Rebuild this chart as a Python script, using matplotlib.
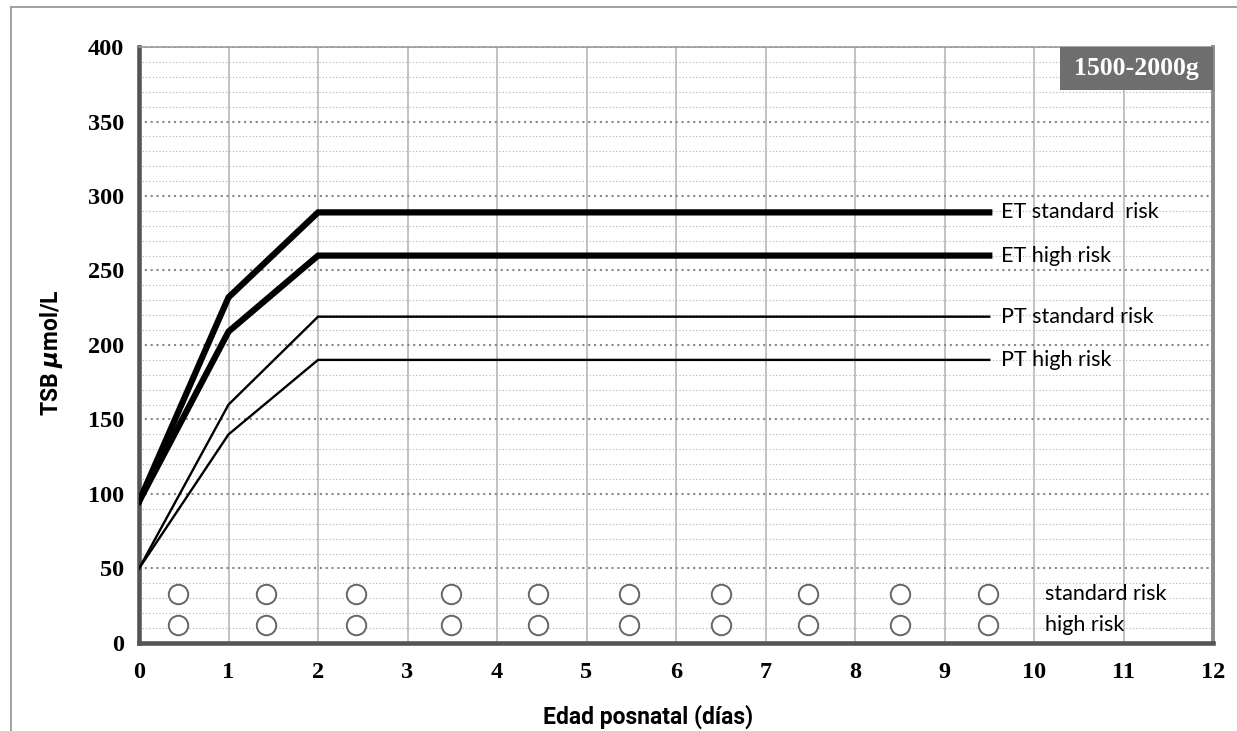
import matplotlib
matplotlib.use("Agg")
import matplotlib.pyplot as plt
from matplotlib.lines import Line2D
from matplotlib.patches import Rectangle
from matplotlib.ticker import MultipleLocator

# threshold curves (TSB umol/L by postnatal day)
days = [0, 1, 2, 9.5]
et_standard = [95, 232, 289, 289]
et_high = [95, 209, 260, 260]
pt_standard = [50, 160, 219, 219]
pt_high = [50, 140, 190, 190]

curve_labels = ["ET standard  risk", "ET high risk", "PT standard risk", "PT high risk"]

# daily check circles
circle_days = [0.44, 1.42, 2.42, 3.49, 4.46, 5.48, 6.5, 7.47, 8.5, 9.49]
circle_standard = [33] * 10
circle_high = [12] * 10

weight_band = "1500-2000g"

serif = ["Liberation Serif", "DejaVu Serif"]
narrow = ["Lato", "DejaVu Sans"]
bold_sans = ["Roboto", "DejaVu Sans"]

plt.rcParams["font.family"] = serif
plt.rcParams["font.weight"] = "bold"

fig = plt.figure(figsize=(12.37, 7.31), dpi=100)
ax = fig.add_axes([0.1124, 0.1204, 0.8682, 0.8153])

ax.set_xlim(0, 12)
ax.set_ylim(0, 400)
ax.xaxis.set_major_locator(MultipleLocator(1))
ax.yaxis.set_major_locator(MultipleLocator(50))
ax.yaxis.set_minor_locator(MultipleLocator(10))

ax.set_axisbelow(True)
ax.xaxis.grid(True, which="major", color="#b8b8b8", lw=1.2, ls="-")
ax.yaxis.grid(True, which="minor", color="#b0b0b0", lw=0.8, ls=(0, (1, 2)))
ax.yaxis.grid(True, which="major", color="#888888", lw=1.5, ls=(0, (1, 1.8)))

ax.tick_params(which="both", length=0, labelsize=17.5)
ax.tick_params(axis="y", pad=11)
ax.tick_params(axis="x", pad=14)

for side in ["left", "bottom"]:
    ax.spines[side].set_color("#555555")
    ax.spines[side].set_linewidth(3.3)
ax.spines["right"].set_color("#8a8a8a")
ax.spines["right"].set_linewidth(2.8)
ax.spines["top"].set_color("#999999")
ax.spines["top"].set_linewidth(1.2)

curves = [et_standard, et_high, pt_standard, pt_high]
widths = [4.5, 4.5, 1.7, 1.7]
for vals, lw, lab in zip(curves, widths, curve_labels):
    ax.plot(days, vals, color="black", lw=lw, solid_joinstyle="miter", zorder=3)
    ax.text(9.63, vals[-1], lab, fontsize=15.5, family=narrow, fontweight="normal",
            va="center", ha="left", zorder=4)

ax.plot(circle_days, circle_standard, "o", ms=14, mfc="white", mec="#666666", mew=1.4, zorder=3)
ax.plot(circle_days, circle_high, "o", ms=14, mfc="white", mec="#666666", mew=1.4, zorder=3)
ax.text(10.12, circle_standard[0], "standard risk", fontsize=15.5, family=narrow,
        fontweight="normal", va="center", ha="left")
ax.text(10.12, circle_high[0], "high risk", fontsize=15.5, family=narrow,
        fontweight="normal", va="center", ha="left")

ax.add_patch(Rectangle((0.858, 0.928), 0.142, 0.072, transform=ax.transAxes,
                       facecolor="#6e6e6e", edgecolor="none", zorder=5, clip_on=False))
ax.text(0.9285, 0.964, weight_band, transform=ax.transAxes, color="white",
        fontsize=18.5, family=serif, fontweight="bold", ha="center", va="center", zorder=6)

ax.set_xlabel("Edad posnatal (días)", fontsize=16.5, family=bold_sans, fontweight="bold")
ax.xaxis.set_label_coords(0.474, -0.103)
ax.set_ylabel("TSB $\\mu$mol/L", fontsize=16.5, family=bold_sans, fontweight="bold")
ax.yaxis.set_label_coords(-0.069, 0.487)

# outer frame of the original figure box
fig.add_artist(Line2D([0.0089, 1.0], [0.9904, 0.9904], color="#9a9a9a", lw=1.3))
fig.add_artist(Line2D([0.0089, 0.0089], [0.0, 0.9904], color="#9a9a9a", lw=1.3))

fig.savefig("out.png", dpi=100)
